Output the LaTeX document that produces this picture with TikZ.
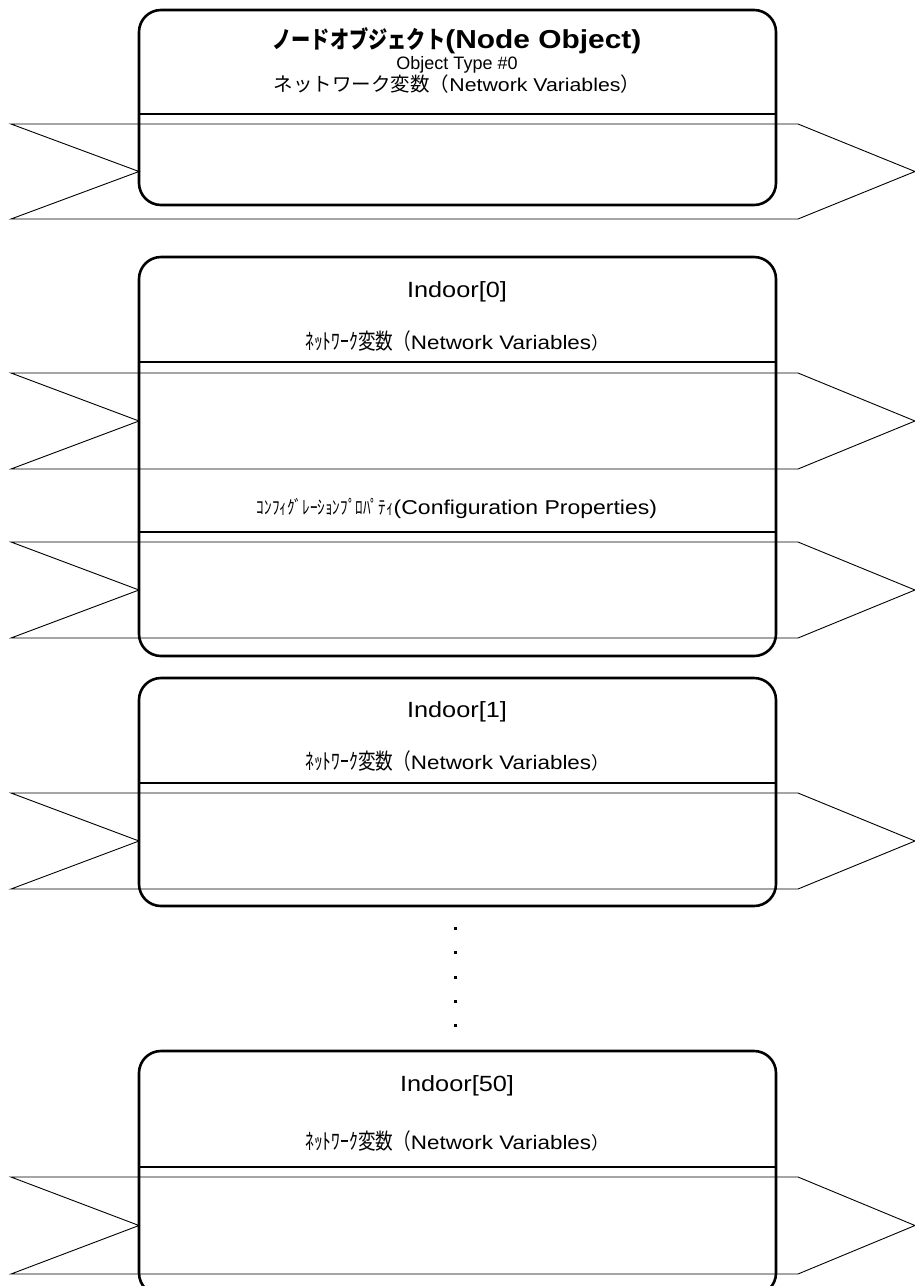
\documentclass[tikz,border=0pt]{standalone}
\usepackage{fontspec}
\setmainfont{Liberation Sans}[FakeStretch=1.15]
\newfontfamily\plain{Liberation Sans}
\newfontfamily\jp{Noto Sans CJK JP}
\usepackage{tikz}
\usetikzlibrary{calc}
\newcommand{\objbox}[3]{\draw[line width=2.6pt,rounded corners=22pt] (139,#2) rectangle (776,#3) coordinate (#1);}
\newcommand{\sepline}[1]{\draw[line width=1.6pt] (139,#1) -- (776,#1);}
\newcommand{\band}[2]{\draw[line width=0.9pt] (11,#1) -- (798,#1) -- (915,{(#1+#2)/2}) -- (798,#2) -- (11,#2) -- (139,{(#1+#2)/2}) -- cycle;}
\newcommand{\boxtext}[3]{\node[inner sep=0pt,anchor=base] (#1) at (457,#2) {#3};}
\newcommand{\sz}[1]{\fontsize{#1}{#1}\selectfont}
\newcommand{\narrowjp}[2]{\scalebox{0.8}[1]{\sz{#1}\jp #2}}
\newcommand{\vdot}[2]{\node[fill=black,inner sep=0pt,minimum size=3pt] (#1) at (455,#2) {};}

\begin{document}
\begin{tikzpicture}[x=1pt,y=-1pt]
\useasboundingbox (0,0) rectangle (915,1286);
% box 1: node object
\band{124}{219}
\objbox{nodebox}{10}{205}
\sepline{114}
\boxtext{nodetitle}{48}{\bfseries\narrowjp{24}{ノードオブジェクト}{\sz{26}(Node Object)}}
\boxtext{nodetype}{69}{\sz{18}\plain Object Type \#0}
\boxtext{nodenv}{91}{{\sz{19.5}\jp ネットワーク変数（}{\sz{18.5}Network Variables}{\sz{19.5}\jp ）}}
% box 2: indoor 0
\band{373}{469}
\band{542}{638}
\objbox{indoorzero}{257}{656}
\sepline{362}
\sepline{532}
\boxtext{zerotitle}{297}{\sz{22}Indoor[0]}
\boxtext{zeronv}{349}{\narrowjp{22}{ﾈｯﾄﾜｰｸ変数（}{\sz{19.5}Network Variables}{\sz{17.5}\jp ）}}
\boxtext{zerocp}{514}{\narrowjp{19}{ｺﾝﾌｨｸﾞﾚｰｼｮﾝﾌﾟﾛﾊﾟﾃｨ}{\sz{20}(Configuration Properties)}}
% box 3: indoor 1
\band{793}{889}
\objbox{indoorone}{678}{906}
\sepline{783}
\boxtext{onetitle}{717}{\sz{22}Indoor[1]}
\boxtext{onenv}{769}{\narrowjp{22}{ﾈｯﾄﾜｰｸ変数（}{\sz{19.5}Network Variables}{\sz{17.5}\jp ）}}
% dots
\vdot{dota}{928}
\vdot{dotb}{952}
\vdot{dotc}{977}
\vdot{dotd}{1001}
\vdot{dote}{1025}
% box 4: indoor 50
\band{1177}{1274}
\objbox{indoorfifty}{1051}{1295}
\sepline{1167}
\boxtext{fiftytitle}{1091}{\sz{22}Indoor[50]}
\boxtext{fiftynv}{1149}{\narrowjp{22}{ﾈｯﾄﾜｰｸ変数（}{\sz{19.5}Network Variables}{\sz{17.5}\jp ）}}
\end{tikzpicture}
\end{document}
